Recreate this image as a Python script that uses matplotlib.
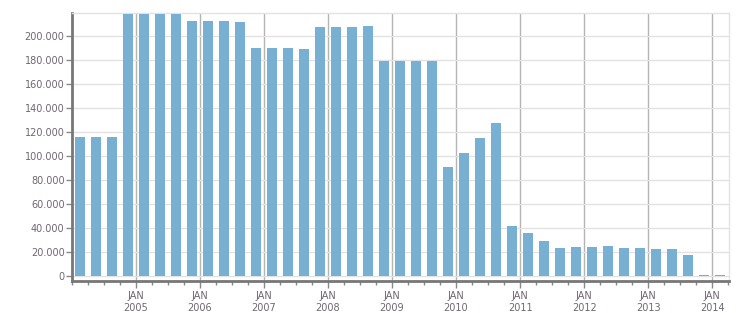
import matplotlib.pyplot as plt
from matplotlib.ticker import FuncFormatter, MultipleLocator

# quarterly values, Q1 2004 .. Q1 2014
quarters = ["2004Q1", "2004Q2", "2004Q3", "2004Q4",
            "2005Q1", "2005Q2", "2005Q3", "2005Q4",
            "2006Q1", "2006Q2", "2006Q3", "2006Q4",
            "2007Q1", "2007Q2", "2007Q3", "2007Q4",
            "2008Q1", "2008Q2", "2008Q3", "2008Q4",
            "2009Q1", "2009Q2", "2009Q3", "2009Q4",
            "2010Q1", "2010Q2", "2010Q3", "2010Q4",
            "2011Q1", "2011Q2", "2011Q3", "2011Q4",
            "2012Q1", "2012Q2", "2012Q3", "2012Q4",
            "2013Q1", "2013Q2", "2013Q3", "2013Q4",
            "2014Q1"]
values = [116000, 116000, 116000, 218000,
          218000, 218000, 218000, 212500,
          212500, 212500, 211700, 189700,
          189700, 189700, 188900, 207200,
          207200, 207200, 208300, 178900,
          178900, 178900, 178900, 90800,
          102500, 115000, 127500, 41700,
          35800, 29200, 23300, 24200,
          24200, 25000, 23300, 23300,
          22500, 22500, 17500, 800,
          400]
years = list(range(2005, 2015))
year_labels = ["JAN\n%d" % y for y in years]

txt = "#6e6670"


def quarter_pos(q):
    y, n = int(q[:4]), int(q[5])
    return y + (n - 1) * 0.25 + 0.125


fig = plt.figure(figsize=(7.51, 3.13), dpi=100)
ax = fig.add_axes([71.5 / 751, 32 / 313, (729 - 71.5) / 751, 268 / 313])

xs = [quarter_pos(q) for q in quarters]
ax.bar(xs, values, width=0.156, color="#77b0d3", zorder=3)

ax.set_xlim(2004, 2014.26)
ax.set_ylim(-4200, 219200)

ax.yaxis.set_major_locator(MultipleLocator(20000))
ax.yaxis.set_major_formatter(FuncFormatter(lambda v, p: "{:,.0f}".format(v).replace(",", ".")))
ax.set_xticks(years)
ax.set_xticklabels(year_labels)
ax.xaxis.set_minor_locator(MultipleLocator(0.25))

ax.grid(axis="y", color="#e2e2e2", linewidth=1, zorder=0)
ax.grid(axis="x", which="major", color="#b4b4b4", linewidth=1, zorder=1)

for s in ["top", "right"]:
    ax.spines[s].set_color("#e2e2e2")
    ax.spines[s].set_linewidth(1)
for s in ["left", "bottom"]:
    ax.spines[s].set_color("#777777")
    ax.spines[s].set_linewidth(2)

ax.tick_params(axis="y", length=4, width=1, color="#888888", labelsize=7, labelcolor=txt, pad=1)
ax.tick_params(axis="x", which="major", length=5, width=1, color="#888888", labelsize=7,
               labelcolor=txt, pad=2)
ax.tick_params(axis="x", which="minor", length=3, width=1, color="#888888")
for t in ax.get_xticklabels():
    t.set_linespacing(1.3)

fig.savefig("out.png", dpi=100)
